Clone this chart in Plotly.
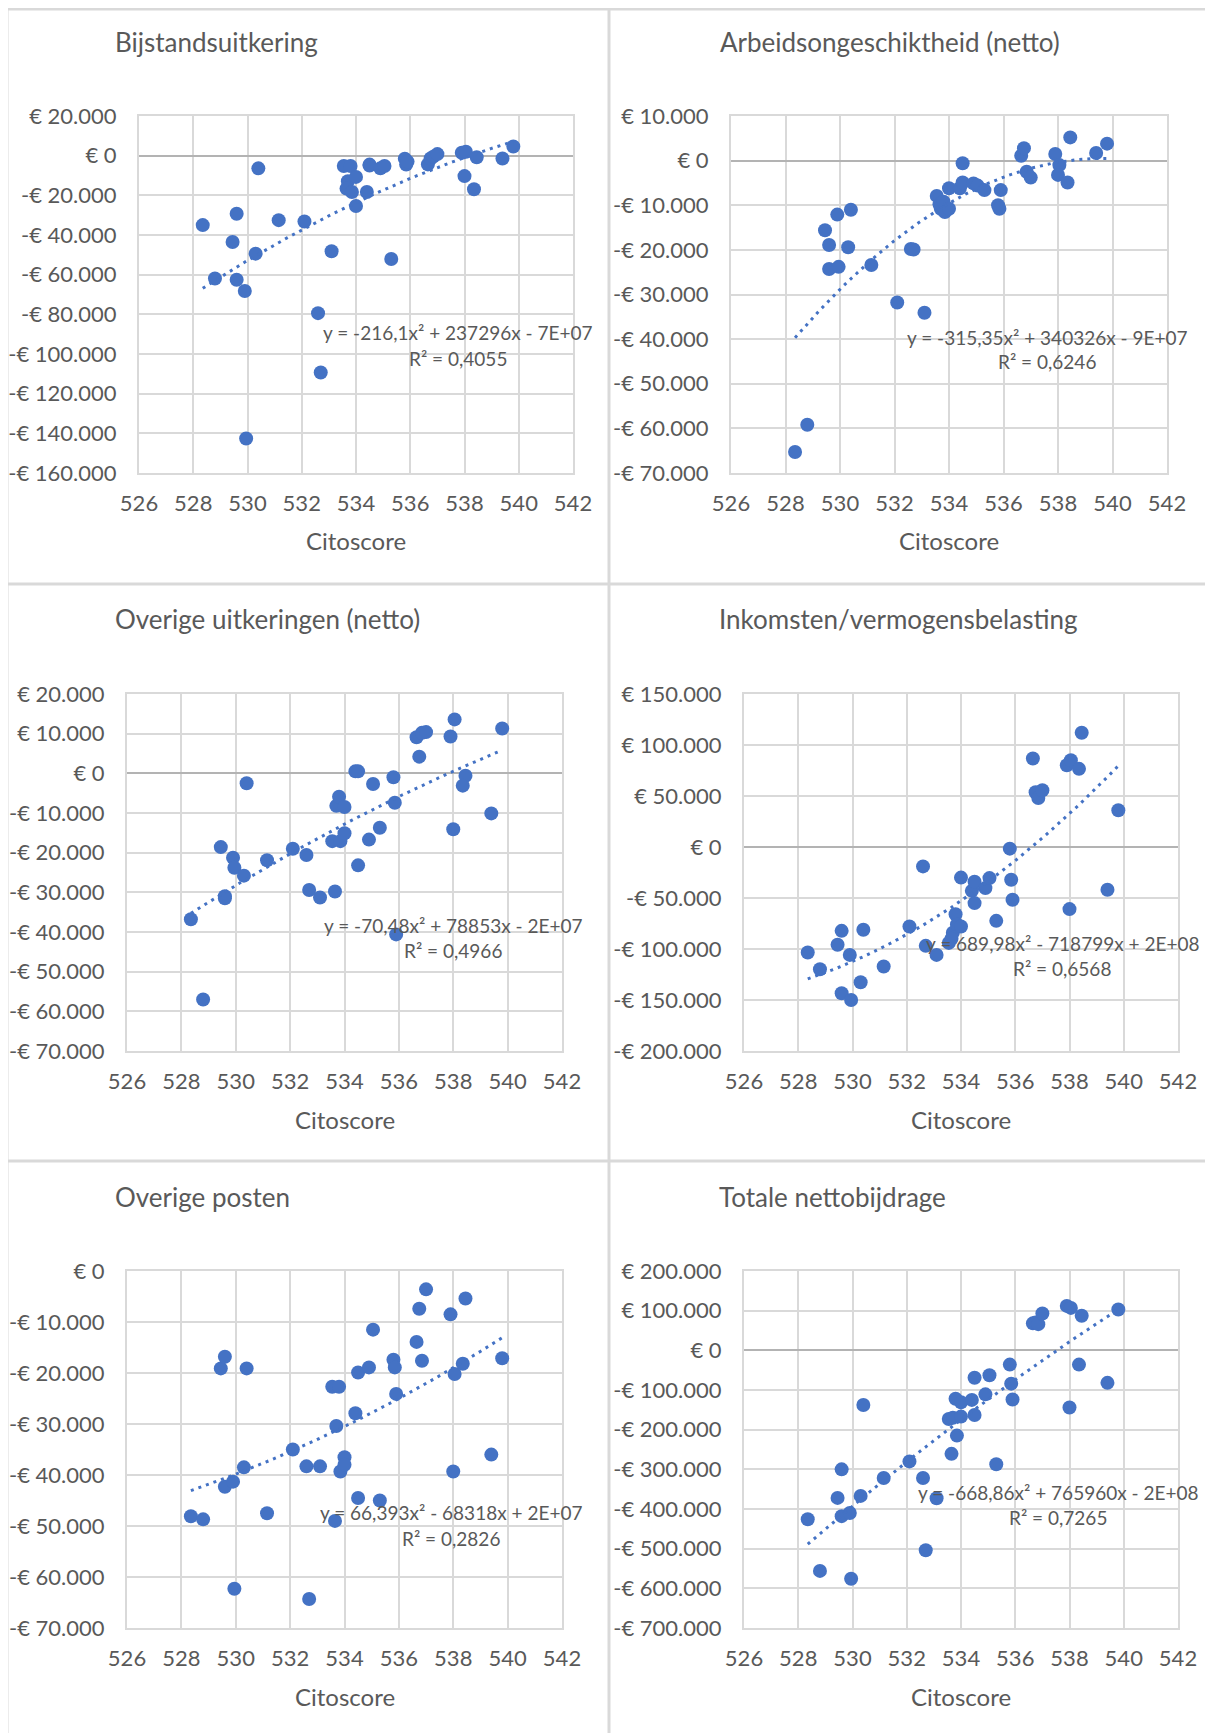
import numpy as np
import plotly.graph_objects as go

# ---------------- data ----------------
citoscore = [528.35, 528.8, 529.45, 529.6, 529.6, 529.9, 529.95, 530.3, 530.4, 531.15,
             532.1, 532.6, 532.7, 533.1, 533.55, 533.7, 533.65, 533.8, 533.85, 534.0,
             534.0, 534.4, 534.5, 534.5, 534.9, 535.05, 535.3, 535.8, 535.85, 535.9,
             536.65, 536.75, 536.85, 537.0, 537.9, 538.05, 538.0, 538.45, 538.35, 539.4,
             539.8]

bijstand = [-35.0, -61.9, -43.5, -29.3, -62.6, -68.2, -142.6, -49.4, -6.4, -32.5,
            -33.2, -79.4, -109.3, -48.2, -5.2, -12.9, -16.6, -5.2, -18.3, -25.4,
            -10.7, -18.3, -4.5, -5.0, -6.4, -5.2, -52.1, -1.5, -4.5, -3.0,
            -4.4, -1.4, -0.5, 0.8, 1.5, 2.0, -10.3, -0.8, -16.9, -1.4,
            4.6]

arbeidsongeschikt = [-65.3, -59.2, -15.6, -18.9, -24.3, -12.1, -23.8, -19.4, -11.0, -23.4,
                     -31.8, -19.8, -19.9, -34.1, -7.9, -10.8, -9.8, -9.2, -11.5, -10.8,
                     -6.2, -6.2, -0.6, -4.9, -5.1, -5.6, -6.6, -10.0, -10.8, -6.6,
                     1.1, 2.8, -2.5, -3.8, 1.5, -1.0, -3.2, 5.2, -4.9, 1.7,
                     3.8]

overige_uitkeringen = [-36.8, -57.0, -18.6, -31.0, -31.5, -21.3, -23.8, -25.8, -2.5, -21.9,
                       -19.0, -20.6, -29.4, -31.3, -17.1, -8.2, -29.8, -5.9, -17.1, -15.1,
                       -8.5, 0.5, 0.5, -23.2, -16.7, -2.7, -13.7, -1.0, -7.4, -40.6,
                       9.1, 4.2, 10.2, 10.4, 9.3, 13.6, -14.1, -0.6, -3.1, -10.1,
                       11.3]

belasting = [-103.5, -119.8, -95.9, -82.2, -143.4, -105.8, -150.0, -132.6, -81.2, -117.2,
             -77.9, -19.0, -96.9, -105.8, -94.0, -84.0, -90.0, -66.0, -76.0, -30.0,
             -78.0, -43.0, -34.0, -55.0, -40.3, -30.5, -72.4, -1.6, -32.1, -51.7,
             86.8, 53.7, 48.1, 55.7, 80.2, 85.1, -60.9, 112.0, 76.6, -41.9,
             36.0]

overige_posten = [-48.1, -48.7, -19.1, -16.8, -42.3, -41.3, -62.3, -38.5, -19.1, -47.5,
                  -35.0, -38.3, -64.3, -38.3, -22.7, -30.4, -49.0, -22.7, -39.3, -36.5,
                  -38.0, -27.9, -19.9, -44.5, -18.9, -11.5, -45.0, -17.4, -18.9, -24.1,
                  -13.9, -7.4, -17.6, -3.6, -8.5, -20.2, -39.3, -5.4, -18.2, -36.0,
                  -17.1]

totaal = [-426, -556, -372, -300, -418, -410, -576, -367, -138, -322,
          -280, -322, -504, -373, -173, -170, -261, -122, -215, -167,
          -131, -125, -69, -163, -111, -63, -287, -36, -84, -124,
          68, 70, 66, 93, 112, 107, -144, 87, -36, -82,
          103]

titles = ["Bijstandsuitkering", "Arbeidsongeschiktheid (netto)",
          "Overige uitkeringen (netto)", "Inkomsten/vermogensbelasting",
          "Overige posten", "Totale nettobijdrage"]
equations = ["y = -216,1x² + 237296x - 7E+07", "y = -315,35x² + 340326x - 9E+07",
             "y = -70,48x² + 78853x - 2E+07", "y = 689,98x² - 718799x + 2E+08",
             "y = 66,393x² - 68318x + 2E+07", "y = -668,86x² + 765960x - 2E+08"]
r_squared = ["R² = 0,4055", "R² = 0,6246", "R² = 0,4966", "R² = 0,6568",
             "R² = 0,2826", "R² = 0,7265"]
y_ranges = [(-160000, 20000, 20000), (-70000, 10000, 10000), (-70000, 20000, 10000),
            (-200000, 150000, 50000), (-70000, 0, 10000), (-700000, 200000, 100000)]
x_range = (526, 542, 2)
x_title = "Citoscore"

series = [bijstand, arbeidsongeschikt, overige_uitkeringen, belasting, overige_posten, totaal]

# ---------------- layout geometry (page pixels) ----------------
PAGE_W, PAGE_H = 1213, 1733
OFF = 8                      # default page body margin
W, H = PAGE_W - OFF, PAGE_H - OFF


def px(xp):
    return (xp - OFF) / W


def py(yp):
    return 1 - (yp - OFF) / H


plot_px = [  # x0, x1, y0(top), y1(bottom)
    (139, 573, 116, 473),
    (731, 1167, 116, 473),
    (127, 562, 694, 1051),
    (744, 1178, 694, 1051),
    (127, 562, 1271, 1628),
    (744, 1178, 1271, 1628),
]
title_px = [(113, 42), (718, 42), (113, 619), (717, 619), (113, 1197), (717, 1197)]
eq_px = [(458, 333, 358), (1047, 337, 362), (453, 925, 950),
         (1062, 943, 968), (451, 1512, 1538), (1058, 1492, 1517)]

BLUE = "#4472C4"
TXT = "#595959"
GRID = "#d9d9d9"
FONT = "Lato, 'Open Sans', sans-serif"


def fmt_euro(v):
    s = f"{abs(int(v)):,}".replace(",", ".")
    return ("-€ " if v < 0 else "€ ") + s


fig = go.Figure()
annotations = []
for i in range(6):
    xa = "x" if i == 0 else f"x{i+1}"
    ya = "y" if i == 0 else f"y{i+1}"
    x = np.array(citoscore)
    y = np.array(series[i]) * 1000.0
    fig.add_trace(go.Scatter(x=x, y=y, mode="markers", xaxis=xa, yaxis=ya,
                             marker=dict(color=BLUE, size=14), showlegend=False,
                             cliponaxis=False))
    coef = np.polyfit(x, y, 2)
    xs = np.linspace(x.min(), x.max(), 200)
    fig.add_trace(go.Scatter(x=xs, y=np.polyval(coef, xs), mode="lines", xaxis=xa, yaxis=ya,
                             line=dict(color=BLUE, width=3, dash="3px,5px"),
                             showlegend=False, hoverinfo="skip"))

    x0, x1, y0, y1 = plot_px[i]
    ymin, ymax, dt = y_ranges[i]
    tv = list(range(ymin, ymax + 1, dt))
    xkey = "xaxis" if i == 0 else f"xaxis{i+1}"
    ykey = "yaxis" if i == 0 else f"yaxis{i+1}"
    fig.update_layout(**{
        xkey: dict(domain=[px(x0), px(x1)], anchor=ya, range=[x_range[0], x_range[1]],
                   tickmode="linear", tick0=x_range[0], dtick=x_range[2], automargin=False,
                   showgrid=True, gridcolor=GRID, gridwidth=2, zeroline=False,
                   showline=True, linecolor=GRID, linewidth=2, mirror=True,
                   ticks="outside", ticklen=10, tickcolor="rgba(0,0,0,0)",
                   tickfont=dict(family=FONT, size=22, color=TXT)),
        ykey: dict(domain=[py(y1), py(y0)], anchor=xa, range=[ymin, ymax],
                   tickvals=tv, ticktext=[fmt_euro(v) for v in tv], automargin=False,
                   showgrid=True, gridcolor=GRID, gridwidth=2,
                   zeroline=(ymax != 0), zerolinecolor="#b3b3b3", zerolinewidth=2,
                   showline=True, linecolor=GRID, linewidth=2, mirror=True,
                   ticks="outside", ticklen=16, tickcolor="rgba(0,0,0,0)",
                   tickfont=dict(family=FONT, size=22, color=TXT)),
    })

    tx, ty = title_px[i]
    annotations.append(dict(text=titles[i], x=px(tx), y=py(ty), xref="paper", yref="paper",
                            xanchor="left", yanchor="middle", showarrow=False,
                            font=dict(family=FONT, size=26, color=TXT)))
    annotations.append(dict(text=x_title, x=px((x0 + x1) / 2), y=py(y1 + 68),
                            xref="paper", yref="paper", xanchor="center", yanchor="middle",
                            showarrow=False, font=dict(family=FONT, size=24, color=TXT)))
    ex, ey1, ey2 = eq_px[i]
    annotations.append(dict(text=equations[i], x=px(ex), y=py(ey1), xref="paper",
                            yref="paper", xanchor="center", yanchor="middle", showarrow=False,
                            font=dict(family=FONT, size=19, color=TXT)))
    annotations.append(dict(text=r_squared[i], x=px(ex), y=py(ey2), xref="paper",
                            yref="paper", xanchor="center", yanchor="middle", showarrow=False,
                            font=dict(family=FONT, size=19, color=TXT)))

# panel borders (light grey frame lines)
shapes = []
for (ax0, ay0, ax1, ay1) in [(7, 9, 7, PAGE_H), (7, 9, PAGE_W, 9), (609, 9, 609, PAGE_H),
                             (7, 584, PAGE_W, 584), (7, 1161, PAGE_W, 1161)]:
    shapes.append(dict(type="line", xref="paper", yref="paper",
                       x0=px(ax0), x1=px(ax1), y0=py(ay0), y1=py(ay1),
                       line=dict(color=GRID, width=3)))

fig.update_layout(width=W, height=H, margin=dict(l=0, r=0, t=0, b=0, autoexpand=False),
                  paper_bgcolor="white", plot_bgcolor="white",
                  annotations=annotations, shapes=shapes, showlegend=False)

fig.write_html("out.html")
